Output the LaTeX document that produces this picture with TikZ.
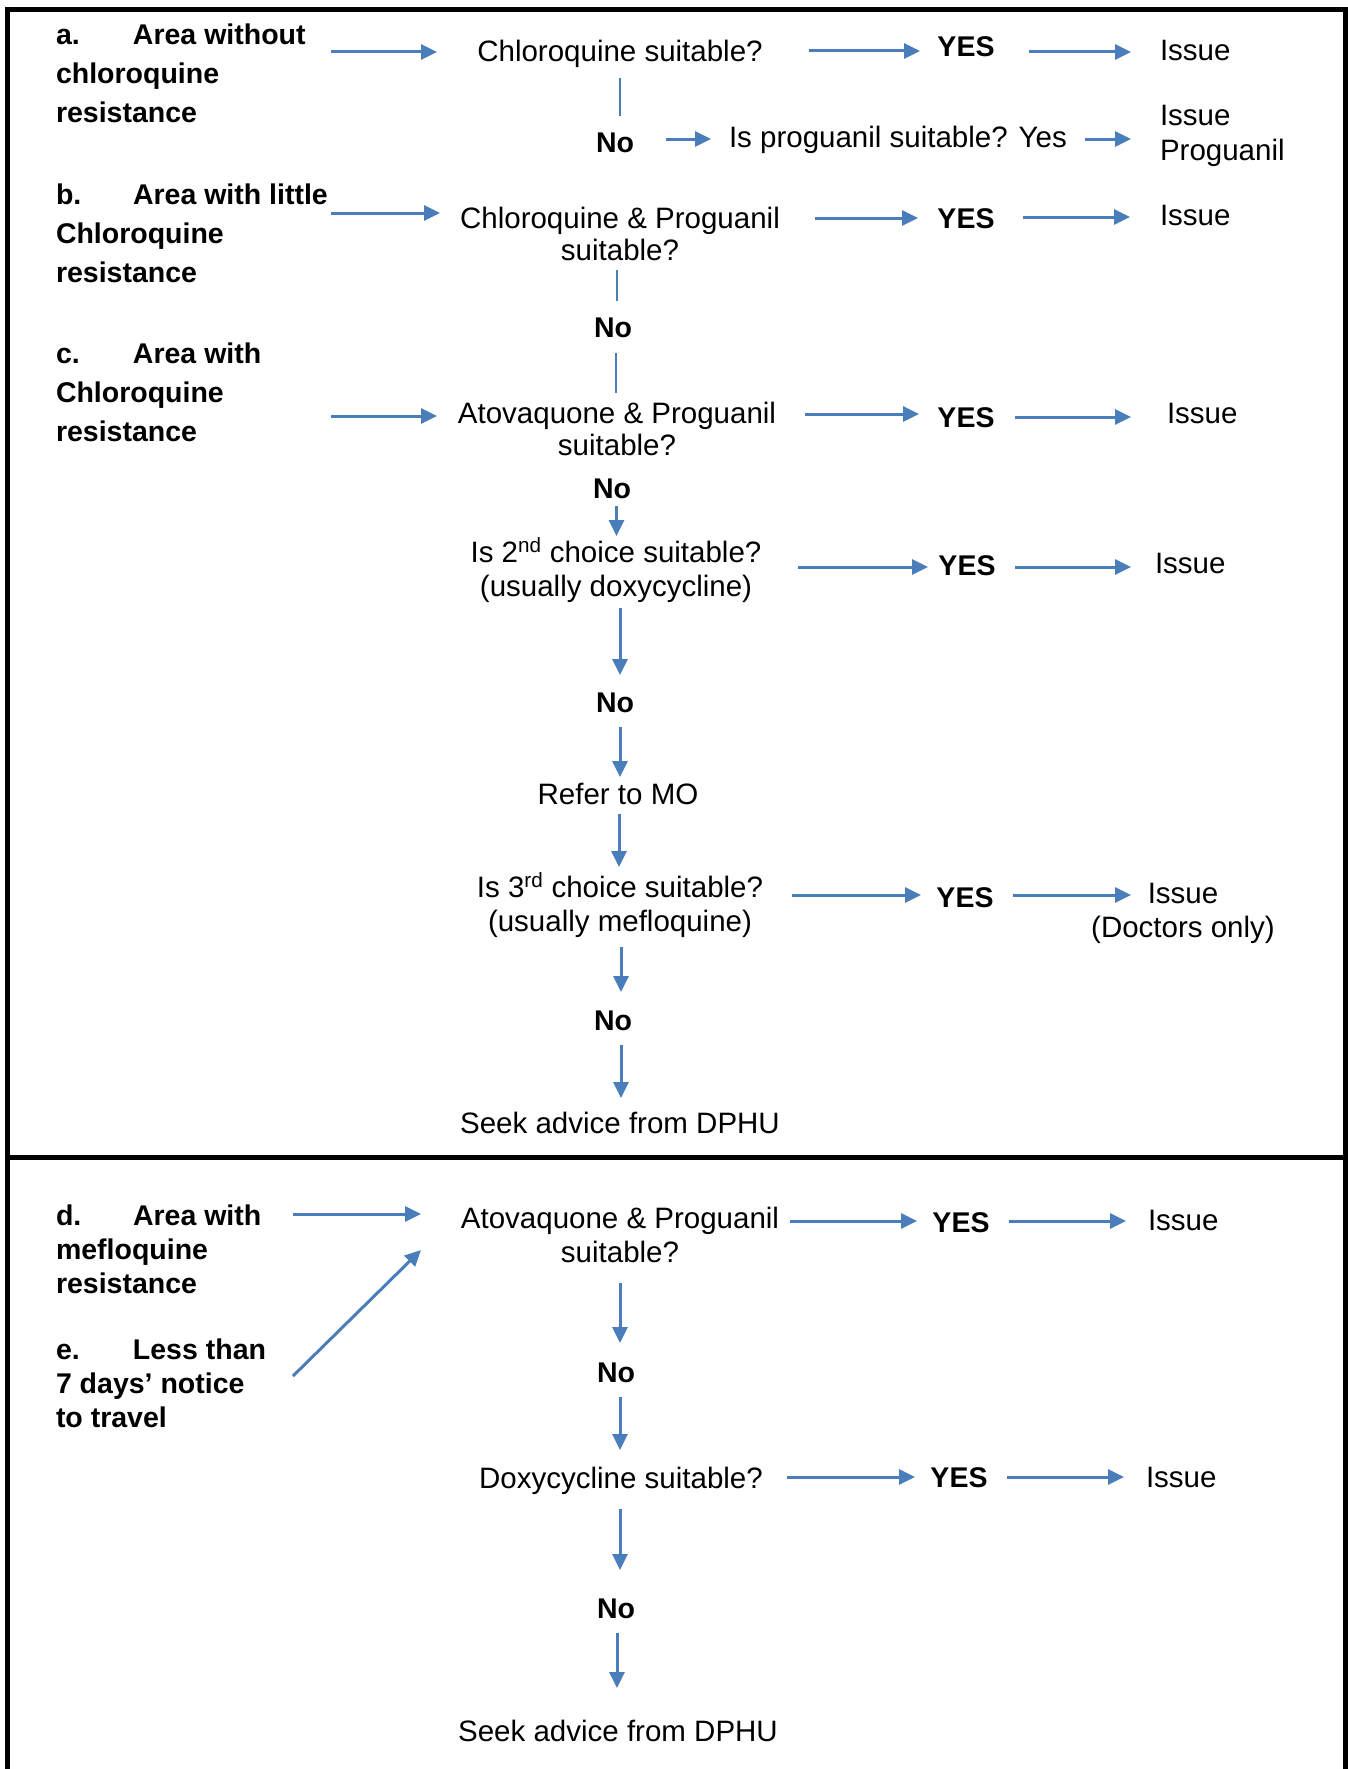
\documentclass[tikz,border=0pt]{standalone}
\usepackage{fontspec}
\setmainfont{Liberation Sans}
\usetikzlibrary{arrows.meta}
\definecolor{arrblue}{HTML}{4A7EBB}
\newcommand\mlines[2]{\begin{tabular}[t]{@{}#1@{}}#2\end{tabular}}
\begin{document}
\begin{tikzpicture}[x=1pt,y=-1pt,
  txt/.style={inner sep=0pt, outer sep=0pt, font=\fontsize{29.5}{34}\selectfont},
  bld/.style={inner sep=0pt, outer sep=0pt, font=\fontsize{28.5}{34}\selectfont\bfseries},
  lab/.style={inner sep=0pt, outer sep=0pt, anchor=base west, font=\fontsize{28.5}{39}\selectfont\bfseries},
  labn/.style={lab, font=\fontsize{28.5}{34}\selectfont\bfseries},
  arr/.style={draw=arrblue, line width=3pt, -{Triangle[length=16pt,width=15pt]}},
  ln/.style={draw=arrblue, line width=2pt},
  frame/.style={draw=black, line width=5pt}]
\useasboundingbox (0,0) rectangle (1348,1769);
\fill[white] (0,0) rectangle (1348,1769);
% frame
\draw[frame] (7,9.5) rectangle (1345,1800);
\draw[frame] (7,1157.5) -- (1345,1157.5);

% labels
\node[lab] (la) at (56,45) {\mlines{l}{\makebox[77pt][l]{a.}Area without\\chloroquine\\resistance}};
\node[lab] (lb) at (56,204) {\mlines{l}{\makebox[77pt][l]{b.}Area with little\\Chloroquine\\resistance}};
\node[lab] (lc) at (56,363) {\mlines{l}{\makebox[77pt][l]{c.}Area with\\Chloroquine\\resistance}};
\node[labn] (ld) at (56,1225) {\mlines{l}{\makebox[77pt][l]{d.}Area with\\mefloquine\\resistance}};
\node[labn] (le) at (56,1359) {\mlines{l}{\makebox[77pt][l]{e.}Less than\\7 days’ notice\\to travel}};

% row a
\node[txt,anchor=base] (q1) at (620,62) {Chloroquine suitable?};
\node[bld,anchor=base] (y1) at (966,57) {YES};
\node[txt,anchor=base west] (i1) at (1160,60) {Issue};
\node[bld,anchor=base] (no1) at (615,152) {No};
\node[txt,anchor=base west] (p1) at (729,147) {Is proguanil suitable? Yes};
\node[txt,anchor=base west] (ip) at (1160,125) {\mlines{l}{Issue\\[1pt]Proguanil}};

% row b
\node[txt,anchor=base] (q2) at (620,228) {\mlines{c}{Chloroquine \& Proguanil\\[-2pt]suitable?}};
\node[bld,anchor=base] (y2) at (966,228) {YES};
\node[txt,anchor=base west] (i2) at (1160,225) {Issue};
\node[bld,anchor=base] (no2) at (613,337) {No};

% row c
\node[txt,anchor=base] (q3) at (617,423) {\mlines{c}{Atovaquone \& Proguanil\\[-2pt]suitable?}};
\node[bld,anchor=base] (y3) at (966,427) {YES};
\node[txt,anchor=base west] (i3) at (1167,423) {Issue};
\node[bld,anchor=base] (no3) at (612,498) {No};
\node[txt,anchor=base] (q4) at (616,562) {\mlines{c}{Is 2\textsuperscript{nd} choice suitable?\\(usually doxycycline)}};
\node[bld,anchor=base] (y4) at (967,575) {YES};
\node[txt,anchor=base west] (i4) at (1155,573) {Issue};
\node[bld,anchor=base] (no4) at (615,712) {No};
\node[txt,anchor=base] (mo) at (618,804) {Refer to MO};
\node[txt,anchor=base] (q5) at (620,897) {\mlines{c}{Is 3\textsuperscript{rd} choice suitable?\\(usually mefloquine)}};
\node[bld,anchor=base] (y5) at (965,907) {YES};
\node[txt,anchor=base] (i5) at (1183,903) {\mlines{c}{Issue\\(Doctors only)}};
\node[bld,anchor=base] (no5) at (613,1030) {No};
\node[txt,anchor=base] (s1) at (620,1133) {Seek advice from DPHU};

% bottom part
\node[txt,anchor=base] (q6) at (620,1228) {\mlines{c}{Atovaquone \& Proguanil\\suitable?}};
\node[bld,anchor=base] (y6) at (961,1232) {YES};
\node[txt,anchor=base west] (i6) at (1148,1230) {Issue};
\node[bld,anchor=base] (no6) at (616,1382) {No};
\node[txt,anchor=base] (q7) at (621,1488) {Doxycycline suitable?};
\node[bld,anchor=base] (y7) at (959,1487) {YES};
\node[txt,anchor=base west] (i7) at (1146,1487) {Issue};
\node[bld,anchor=base] (no7) at (616,1618) {No};
\node[txt,anchor=base] (s2) at (618,1741) {Seek advice from DPHU};

% connectors row a
\draw[arr] ([shift={(275,7)}]la.base west) -- ([shift={(-183,-10)}]q1.base);
\draw[arr] ([shift={(189,-11)}]q1.base) -- ([shift={(-46,-6)}]y1.base);
\draw[arr] ([shift={(63,-5)}]y1.base) -- ([shift={(-29,-8)}]i1.base west);
\draw[ln] ([shift={(0,16)}]q1.base) -- ([shift={(5,-36)}]no1.base);
\draw[arr] ([shift={(51,-13)}]no1.base) -- ([shift={(-18,-8)}]p1.base west);
\draw[arr] ([shift={(356,-8)}]p1.base west) -- ([shift={(-29,14)}]ip.base west);

% connectors row b
\draw[arr] ([shift={(275,9)}]lb.base west) -- ([shift={(-180,-15)}]q2.base);
\draw[arr] ([shift={(195,-10)}]q2.base) -- ([shift={(-48,-10)}]y2.base);
\draw[arr] ([shift={(57,-11)}]y2.base) -- ([shift={(-30,-8)}]i2.base west);
\draw[ln] ([shift={(-3,42)}]q2.base) -- ([shift={(4,-36)}]no2.base);
\draw[ln] ([shift={(3,16)}]no2.base) -- ([shift={(-1,-30)}]q3.base);

% connectors row c
\draw[arr] ([shift={(275,53)}]lc.base west) -- ([shift={(-180,-7)}]q3.base);
\draw[arr] ([shift={(188,-9)}]q3.base) -- ([shift={(-47,-13)}]y3.base);
\draw[arr] ([shift={(49,-10)}]y3.base) -- ([shift={(-36,-6)}]i3.base west);
\draw[arr] ([shift={(4.5,8)}]no3.base) -- ([shift={(0.5,-26)}]q4.base);
\draw[arr] ([shift={(182,5)}]q4.base) -- ([shift={(-39,-8)}]y4.base);
\draw[arr] ([shift={(48,-8)}]y4.base) -- ([shift={(-24,-6)}]i4.base west);
\draw[arr] ([shift={(4,46)}]q4.base) -- ([shift={(5,-37)}]no4.base);
\draw[arr] ([shift={(5,15)}]no4.base) -- ([shift={(2,-27)}]mo.base);
\draw[arr] ([shift={(1,10)}]mo.base) -- ([shift={(-1,-30)}]q5.base);
\draw[arr] ([shift={(172,-2)}]q5.base) -- ([shift={(-44,-12)}]y5.base);
\draw[arr] ([shift={(48,-12)}]y5.base) -- ([shift={(-52,-8)}]i5.base);
\draw[arr] ([shift={(1,50)}]q5.base) -- ([shift={(8,-38)}]no5.base);
\draw[arr] ([shift={(8,15)}]no5.base) -- ([shift={(1,-35)}]s1.base);

% connectors bottom
\draw[arr] ([shift={(237,-11)}]ld.base west) -- ([shift={(-199,-14)}]q6.base);
\draw[arr] ([shift={(237,17)}]le.base west) -- ([shift={(-199,22)}]q6.base);
\draw[arr] ([shift={(170,-7)}]q6.base) -- ([shift={(-44,-11)}]y6.base);
\draw[arr] ([shift={(48,-11)}]y6.base) -- ([shift={(-22,-9)}]i6.base west);
\draw[arr] ([shift={(0,55)}]q6.base) -- ([shift={(4,-39)}]no6.base);
\draw[arr] ([shift={(4,15)}]no6.base) -- ([shift={(-1,-38)}]q7.base);
\draw[arr] ([shift={(166,-11)}]q7.base) -- ([shift={(-44,-10)}]y7.base);
\draw[arr] ([shift={(48,-10)}]y7.base) -- ([shift={(-22,-10)}]i7.base west);
\draw[arr] ([shift={(-1,21)}]q7.base) -- ([shift={(4,-48)}]no7.base);
\draw[arr] ([shift={(1,15)}]no7.base) -- ([shift={(-1,-53)}]s2.base);
\end{tikzpicture}
\end{document}
